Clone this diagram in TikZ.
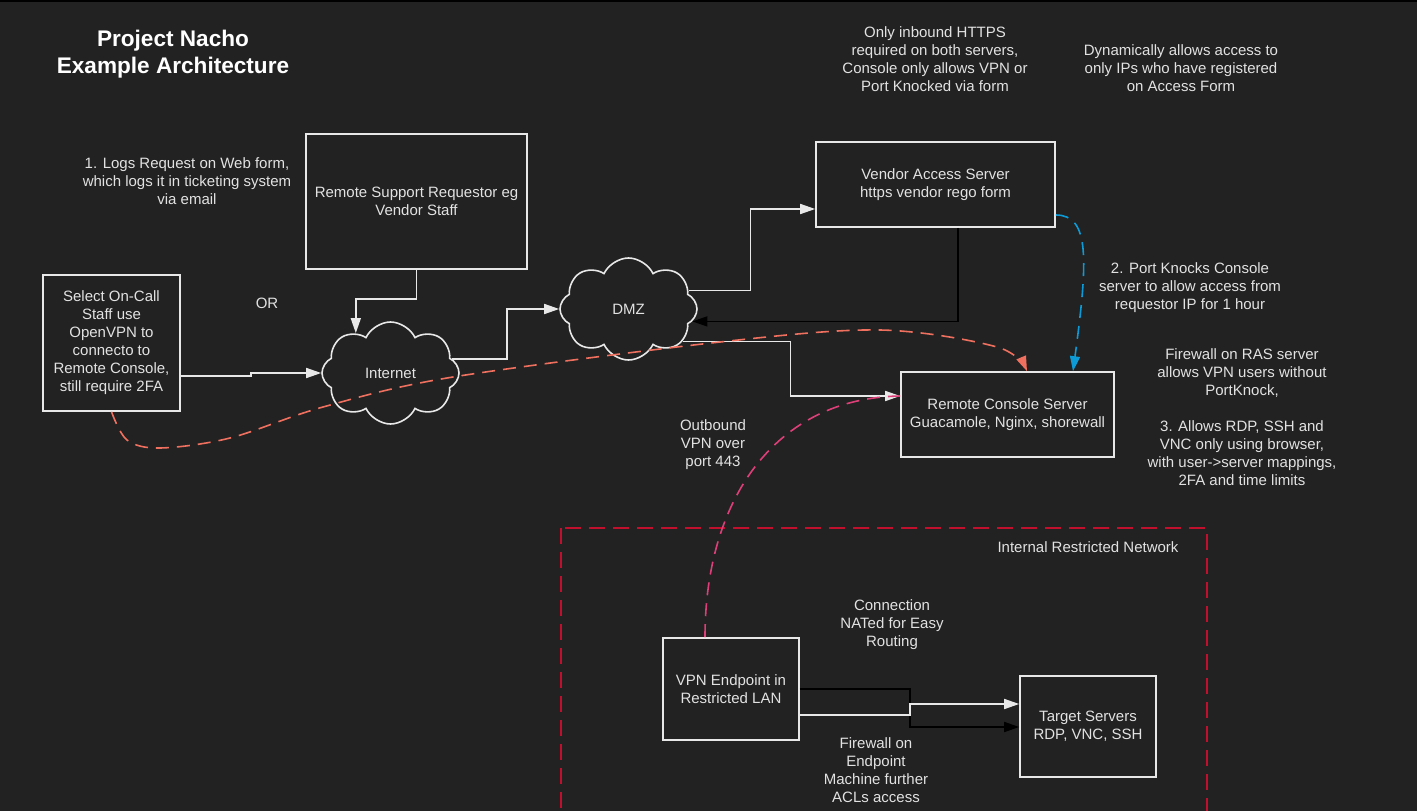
\documentclass[tikz,border=0pt]{standalone}
\usepackage{fontspec}
\setmainfont{Liberation Sans}
\usetikzlibrary{shapes.symbols,arrows.meta,calc}
\definecolor{bgc}{HTML}{222222}
\definecolor{linec}{HTML}{E8E8E8}
\definecolor{txtc}{HTML}{E2E2E2}
\definecolor{salmon}{HTML}{F0705F}
\definecolor{bluec}{HTML}{0C9BD6}
\definecolor{pinkc}{HTML}{DE3F78}
\definecolor{crim}{HTML}{C0102E}
\tikzset{
  txt/.style={text=txtc, font=\fontsize{15}{18}\selectfont, align=center, inner sep=0pt},
  box/.style={draw=linec, line width=1.6pt, fill=bgc, inner sep=0pt, align=center,
    text=txtc, font=\fontsize{15}{18}\selectfont},
  cld/.style={cloud, cloud puffs=8, cloud puff arc=130, draw=linec, line width=1.6pt,
    fill=bgc, inner sep=0pt, text=txtc, font=\fontsize{15}{18}\selectfont,
    minimum width=137pt, minimum height=102pt},
  tip/.style={-{Triangle[length=15pt,width=10pt]}},
  wl/.style={draw=linec, line width=1.6pt, tip},
  bl/.style={draw=black, line width=1.6pt, tip},
  sdash/.style={line width=1.6pt, dash pattern=on 13pt off 8pt},
}
\begin{document}
\begin{tikzpicture}[x=1pt,y=-1pt]
\useasboundingbox (0,0) rectangle (1417,811);
\clip (0,0) rectangle (1417,811);
\fill[bgc] (0,0) rectangle (1417,811);
\fill[black] (0,0) rectangle (1417,2);

% internal network
\draw[crim, line width=1.6pt, dash pattern=on 16pt off 8pt] (561,528) rectangle (1207,840);
\node[txt] (tnet) at (1088,547) {Internal Restricted Network};

% title and notes
\node[txt, font=\fontsize{22.6}{27}\selectfont\bfseries, text=white] (title) at (173,54) {Project Nacho\\Example Architecture};
\node[txt] (tlogs) at (187,181) {1. Logs Request on Web form,\\which logs it in ticketing system\\via email};
\node[txt] (tor) at (267,303) {OR};
\node[txt] (thttps) at (935,59) {Only inbound HTTPS\\required on both servers,\\Console only allows VPN or\\Port Knocked via form};
\node[txt] (tdyn) at (1181,68) {Dynamically allows access to\\only IPs who have registered\\on Access Form};
\node[txt] (tknock) at (1190,288) {2. Port Knocks Console\\server to allow access from\\requestor IP for 1 hour};
\node[txt] (tfw) at (1242,373) {Firewall on RAS server\\allows VPN users without\\PortKnock,};
\node[txt] (tallow) at (1242,453) {3. Allows RDP, SSH and\\VNC only using browser,\\with user->server mappings,\\2FA and time limits};
\node[txt] (tout) at (713,445) {Outbound\\VPN over\\port 443};
\node[txt] (tnat) at (892,625) {Connection\\NATed for Easy\\Routing};
\node[txt] (tfwe) at (876,770) {Firewall on\\Endpoint\\Machine further\\ACLs access};

% boxes
\node[box, minimum width=221pt, minimum height=135pt] (req) at (416.5,201.5) {Remote Support Requestor eg\\Vendor Staff};
\node[box, minimum width=137pt, minimum height=136pt] (oncall) at (111.5,343) {Select On-Call\\Staff use\\OpenVPN to\\connecto to\\Remote Console,\\still require 2FA};
\node[box, minimum width=239pt, minimum height=85pt] (vas) at (935.5,184.5) {Vendor Access Server\\https vendor rego form};
\node[box, minimum width=213pt, minimum height=85pt] (rcs) at (1007.5,414.5) {Remote Console Server\\Guacamole, Nginx, shorewall};
\node[box, minimum width=136pt, minimum height=102pt] (vpn) at (731,689) {VPN Endpoint in\\Restricted LAN};
\node[box, minimum width=136pt, minimum height=101pt] (tgt) at (1088,726.5) {Target Servers\\RDP, VNC, SSH};

% clouds
\node[cld] (inet) at (390.5,373) {Internet};
\node[cld] (dmz) at (628.5,309) {DMZ};

% solid connectors
\draw[wl] (req.south) -- ++(0,29) -| (inet.131);
\draw[wl] ($(oncall.east)+(0,33)$) -- ++(70,0) |- (inet.west);
\draw[wl] (inet.13) -- ++(55,0) |- (dmz.west);
\draw[wl] (dmz.17) -- ++(62,0) |- ($(vas.west)+(0,24.5)$);
\draw[bl] ($(vas.south)+(22.5,0)$) |- (dmz.-11);
\draw[wl] (dmz.-31) -- ++(108,0) |- ($(rcs.west)+(0,-18.5)$);
\draw[bl] (vpn.east) -- ++(110,0) |- ($(tgt.west)+(0,0.5)$);
\draw[wl] ($(vpn.east)+(0,26)$) -- ++(110,0) |- ($(tgt.west)+(0,-22.5)$);

% dashed connectors
\draw[salmon, sdash, tip] plot[smooth, tension=0.55] coordinates {(oncall.south) (127,440) (160,448) (230,438) (323,407) (453,377) (720,342) (880,330) (997,347) ($(rcs.north)+(19.5,0)$)};
\draw[bluec, sdash, tip] ($(vas.east)+(0,30.5)$) .. controls (1090,215) and (1088,260) .. ($(rcs.north)+(65.5,0)$);
\draw[pinkc, sdash] ($(vpn.north)+(-26,0)$) .. controls (705,500) and (775,398) .. ($(rcs.west)+(0,-18.5)$);
\end{tikzpicture}
\end{document}
